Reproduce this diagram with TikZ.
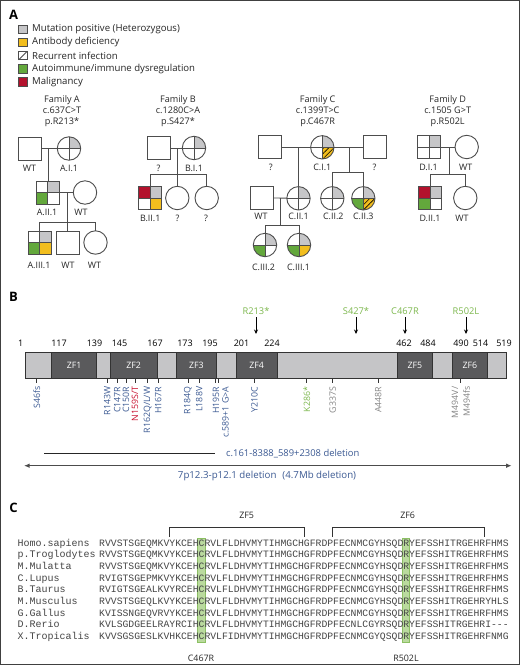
\documentclass[tikz,border=0pt]{standalone}
\usepackage{fontspec}
\setmainfont{Open Sans}
\newfontfamily\monof{Liberation Mono}
\usetikzlibrary{arrows.meta,patterns.meta,calc}
\definecolor{mutgray}{HTML}{C6C6C8}
\definecolor{accy}{HTML}{F2BE1E}
\definecolor{accg}{HTML}{63A83C}
\definecolor{accr}{HTML}{B3122D}
\definecolor{pedline}{HTML}{4D4D4D}
\definecolor{barlight}{HTML}{C5C5C7}
\definecolor{bardark}{HTML}{5A5A5C}
\definecolor{mblue}{HTML}{3C5A93}
\definecolor{mgreen}{HTML}{7DB84E}
\definecolor{mred}{HTML}{C8102E}
\definecolor{mgray}{HTML}{858585}
\definecolor{seqtext}{HTML}{454545}
\definecolor{hlfill}{HTML}{BADA9E}
\definecolor{hldraw}{HTML}{8CC063}
\begin{document}
\begin{tikzpicture}[x=1pt,y=-1pt,
  pedl/.style={draw=pedline, line width=0.9pt},
  psq/.style={rectangle, draw=pedline, line width=0.9pt, fill=white, minimum size=23pt, inner sep=0pt, outer sep=0pt},
  pci/.style={circle, draw=pedline, line width=0.9pt, fill=white, minimum size=23.4pt, inner sep=0pt, outer sep=0pt},
  plab/.style={font=\fontsize{8.9}{10}\selectfont, text=black!85, inner sep=0pt},
  ftitle/.style={font=\fontsize{9.1}{11}\selectfont, align=center, text=black!85, inner sep=0pt},
  qw/.style={fill=white}, qg/.style={fill=mutgray}, qy/.style={fill=accy},
  qgr/.style={fill=accg}, qr/.style={fill=accr},
  qyh/.style={fill=accy, postaction={pattern={Lines[angle=45,distance=3.6pt,line width=0.6pt]}, pattern color=black}},
  quads/.style n args={4}{path picture={
    \fill[#1] (path picture bounding box.center) rectangle (path picture bounding box.north west);
    \fill[#2] (path picture bounding box.center) rectangle (path picture bounding box.north east);
    \fill[#3] (path picture bounding box.center) rectangle (path picture bounding box.south west);
    \fill[#4] (path picture bounding box.center) rectangle (path picture bounding box.south east);
    \draw[pedline, line width=0.8pt] (path picture bounding box.north) -- (path picture bounding box.south)
      (path picture bounding box.west) -- (path picture bounding box.east);}},
  panlab/.style={font=\bfseries\fontsize{13}{14}\selectfont, inner sep=0pt},
  legsq/.style={rectangle, draw=pedline, line width=0.8pt, minimum size=8.6pt, inner sep=0pt, outer sep=0pt},
  legtxt/.style={font=\fontsize{9.6}{10}\selectfont, anchor=west, inner sep=0pt, text=black!85},
  zfbox/.style={rectangle, draw=black!80, line width=0.8pt, fill=bardark, minimum height=25.5pt, inner sep=0pt, outer sep=0pt, text=white, font=\fontsize{8.8}{10}\selectfont},
  numlab/.style={font=\fontsize{9}{10}\selectfont, inner sep=0pt},
  mtop/.style={font=\fontsize{9.3}{10}\selectfont, inner sep=1pt, text=mgreen},
  marr/.style={line width=0.9pt, -{Stealth[length=4.5pt,width=4pt]}, shorten <=2pt},
  mut/.style={rotate=90, anchor=east, inner sep=0pt, font=\fontsize{8.8}{10}\selectfont},
  tick/.style={line width=0.8pt, draw=black!80},
  deltxt/.style={font=\fontsize{9.4}{11}\selectfont, text=mblue, inner sep=0pt},
  darr/.style={line width=1.1pt, draw=black!70, {Latex[length=5.5pt,width=4.5pt]}-{Latex[length=5.5pt,width=4.5pt]}},
  brk/.style={line width=0.9pt, draw=black!80},
  clab/.style={font=\fontsize{8.9}{10}\selectfont, inner sep=0pt, text=black!85},
  nm/.style={font=\monof\fontsize{10}{12}\selectfont, text=seqtext, inner sep=0pt, anchor=base west},
  sq/.style={font=\monof\fontsize{9.75}{12}\selectfont, text=seqtext, inner sep=0pt, anchor=base west}
]
\useasboundingbox (0,0) rectangle (520,665);
\fill[white] (0,0) rectangle (520,665);
\draw[line width=0.8pt, draw=black!75] (0.5,0.5) rectangle (519.5,664.5);

% ---------------- Panel A ----------------
\node[panlab] (pA) at (13.5,15) {A};
\node[legsq, fill=mutgray] (l1) at (23,29.2) {};
\node[legtxt] (l1t) at (32,29.2) {Mutation positive (Heterozygous)};
\node[legsq, fill=accy] (l2) at (23,42.3) {};
\node[legtxt] (l2t) at (32,42.3) {Antibody deficiency};
\node[legsq, fill=white] (l3) at (23,55.5) {};
\draw[pedline, line width=0.8pt] (l3.south west) -- (l3.north east);
\node[legtxt] (l3t) at (32,55.5) {Recurrent infection};
\node[legsq, fill=accg] (l4) at (23,68.8) {};
\node[legtxt] (l4t) at (32,68.8) {Autoimmune/immune dysregulation};
\node[legsq, fill=accr] (l5) at (23,82) {};
\node[legtxt] (l5t) at (32,82) {Malignancy};

% Family A
\node[ftitle] (tA) at (62,111) {Family A\\c.637C>T\\p.R213*};
\node[psq] (aI1f) at (30,148.5) {};
\node[pci, quads={qw}{qg}{qw}{qw}] (aI1) at (69,148.5) {};
\node[psq, quads={qw}{qg}{qgr}{qw}] (aII1) at (47.5,192.5) {};
\node[pci] (aII1s) at (85,192.5) {};
\node[psq, quads={qw}{qg}{qgr}{qy}] (aIII1) at (39.5,242.5) {};
\node[psq] (aIII2) at (67.5,242.5) {};
\node[pci] (aIII3) at (95.5,242.5) {};
\coordinate (aM1) at (48,148.5);
\coordinate (aM2) at (67.5,192.5);
\coordinate (aS2) at (67.5,222);
\draw[pedl] (aI1f) -- (aI1);
\draw[pedl] (aM1) -- (aM1 |- aII1.north);
\draw[pedl] (aII1) -- (aII1s);
\draw[pedl] (aM2) -- (aS2);
\draw[pedl] (aIII1.north |- aS2) -- (aIII3.north |- aS2);
\draw[pedl] (aIII1.north |- aS2) -- (aIII1.north);
\draw[pedl] (aIII3.north |- aS2) -- (aIII3.north);
\draw[pedl] (aS2) -- (aIII2.north);
\node[plab] at (29.5,168.5) {WT};
\node[plab] at (69,168.5) {A.I.1};
\node[plab] at (47,212.5) {A.II.1};
\node[plab] at (81,212.5) {WT};
\node[plab] at (39,265) {A.III.1};
\node[plab] at (68,265) {WT};
\node[plab] at (94.5,265) {WT};

% Family B
\node[ftitle] (tB) at (178,111) {Family B\\c.1280C>A\\p.S427*};
\node[psq] (bI1f) at (158.5,148) {};
\node[pci, quads={qw}{qg}{qw}{qw}] (bI1) at (194,148) {};
\node[psq, quads={qr}{qg}{qw}{qy}] (bII1) at (150.3,198) {};
\node[pci] (bII2) at (177.3,198) {};
\node[pci] (bII3) at (206.7,198) {};
\coordinate (bM1) at (177.3,148);
\coordinate (bS1) at (177.3,174.3);
\draw[pedl] (bI1f) -- (bI1);
\draw[pedl] (bM1) -- (bS1);
\draw[pedl] (bII1.north |- bS1) -- (bII3.north |- bS1);
\draw[pedl] (bII1.north |- bS1) -- (bII1.north);
\draw[pedl] (bS1) -- (bII2.north);
\draw[pedl] (bII3.north |- bS1) -- (bII3.north);
\node[plab] at (158.5,168.5) {?};
\node[plab] at (194,168.5) {B.I.1};
\node[plab] at (150.3,218.5) {B.II.1};
\node[plab] at (177.5,218.5) {?};
\node[plab] at (206,218.5) {?};

% Family C
\node[ftitle] (tC) at (317.7,111) {Family C\\c.1399T>C\\p.C467R};
\node[psq] (cI1a) at (270.3,147.3) {};
\node[pci, quads={qw}{qg}{qw}{qyh}] (cI1) at (322.3,147.3) {};
\node[psq] (cI1b) at (375,147.3) {};
\node[psq] (cII1s) at (261.7,197.8) {};
\node[pci, quads={qw}{qg}{qw}{qw}] (cII1) at (298.5,198.3) {};
\node[pci, quads={qw}{qg}{qw}{qw}] (cII2) at (332.3,198.3) {};
\node[pci, quads={qw}{qg}{qgr}{qyh}] (cII3) at (363.3,198.3) {};
\node[pci, quads={qw}{qg}{qgr}{qw}] (cIII2) at (265,245) {};
\node[pci, quads={qw}{qg}{qgr}{qy}] (cIII1) at (299,245) {};
\coordinate (cM1) at (298.5,147.3);
\coordinate (cM2) at (349,147.3);
\coordinate (cS2) at (349,172.3);
\coordinate (cM3) at (280,198.3);
\coordinate (cS3) at (280,225);
\draw[pedl] (cI1a) -- (cI1);
\draw[pedl] (cI1) -- (cI1b);
\draw[pedl] (cM1) -- (cII1.north);
\draw[pedl] (cM2) -- (cS2);
\draw[pedl] (cII2.north |- cS2) -- (cII3.north |- cS2);
\draw[pedl] (cII2.north |- cS2) -- (cII2.north);
\draw[pedl] (cII3.north |- cS2) -- (cII3.north);
\draw[pedl] (cII1s) -- (cII1);
\draw[pedl] (cM3) -- (cS3);
\draw[pedl] (cIII2.north |- cS3) -- (cIII1.north |- cS3);
\draw[pedl] (cIII2.north |- cS3) -- (cIII2.north);
\draw[pedl] (cIII1.north |- cS3) -- (cIII1.north);
\node[plab] at (270.7,167.7) {?};
\node[plab] at (322.3,167.7) {C.I.1};
\node[plab] at (374.5,167.7) {?};
\node[plab] at (261,216.3) {WT};
\node[plab] at (298.5,216.3) {C.II.1};
\node[plab] at (333.3,216.3) {C.II.2};
\node[plab] at (363.3,216.3) {C.II.3};
\node[plab] at (263.5,267) {C.III.2};
\node[plab] at (298.5,267) {C.III.1};

% Family D
\node[ftitle] (tD) at (447.7,111) {Family D\\c.1505 G>T\\p.R502L};
\node[psq, quads={qw}{qg}{qw}{qw}] (dI1) at (429,147) {};
\node[pci] (dI1s) at (466.7,147) {};
\node[psq, quads={qr}{qg}{qgr}{qw}] (dII1) at (430.3,198) {};
\node[pci] (dII2) at (465.3,198) {};
\coordinate (dM1) at (449.3,147);
\coordinate (dS1) at (449.3,174.3);
\draw[pedl] (dI1) -- (dI1s);
\draw[pedl] (dM1) -- (dS1);
\draw[pedl] (dII1.north |- dS1) -- (dII2.north |- dS1);
\draw[pedl] (dII1.north |- dS1) -- (dII1.north);
\draw[pedl] (dII2.north |- dS1) -- (dII2.north);
\node[plab] at (428.5,167.7) {D.I.1};
\node[plab] at (465.7,167.7) {WT};
\node[plab] at (430,218.3) {D.II.1};
\node[plab] at (462,218.3) {WT};

% ---------------- Panel B ----------------
\node[panlab] (pB) at (13.5,297) {B};
\node[rectangle, draw=black!80, line width=0.8pt, fill=barlight, minimum width=481pt, minimum height=25.5pt, inner sep=0pt, outer sep=0pt] (bar) at (265.5,365.25) {};
\node[zfbox, minimum width=45pt] (zf1) at (74.2,365.25) {ZF1};
\node[zfbox, minimum width=47.3pt] (zf2) at (133.65,365.25) {ZF2};
\node[zfbox, minimum width=40.7pt] (zf3) at (196.35,365.25) {ZF3};
\node[zfbox, minimum width=41.3pt] (zf4) at (256.65,365.25) {ZF4};
\node[zfbox, minimum width=35pt] (zf5) at (414.8,365.25) {ZF5};
\node[zfbox, minimum width=35pt] (zf6) at (469.8,365.25) {ZF6};
\foreach \x/\t in {20.7/1, 59/117, 94.5/139, 119.5/145, 155/167, 185/173, 210/195, 241.5/201, 272/224, 404/462, 428/484, 461/490, 480.5/514, 504/519}
  \node[numlab] at (\x,343.3) {\t};
\foreach \x/\t/\n in {256/R213*/a, 356/S427*/b, 405/C467R/c, 466/R502L/d} {
  \node[mtop] (top\n) at (\x,310.7) {\t};
  \coordinate (tip\n) at (\x,334);
  \draw[marr] (top\n) -- (tip\n);
}
\foreach \x in {36.7,107.3,117.3,126,135,147.7,158.3,188,199.3,215.7,218.3,254,306.7,332.7,378.3,460.7}
  \draw[tick] (\x,378) -- (\x,383);
\node[mut, text=mblue] at (36.7,386.5) {S46fs};
\node[mut, text=mblue] at (107.3,386.5) {R143W};
\node[mut, text=mblue] at (117.3,386.5) {C147R};
\node[mut, text=mblue] at (126,386.5) {C150R};
\node[mut, text=mred] at (135,386.5) {N159S/T};
\node[mut, text=mblue] at (147.7,386.5) {R162Q/L/W};
\node[mut, text=mblue] at (158.3,386.5) {H167R};
\node[mut, text=mblue] at (188,386.5) {R184Q};
\node[mut, text=mblue] at (199.3,386.5) {L188V};
\node[mut, text=mblue] at (216,386.5) {H195R};
\node[mut, text=mblue] at (225.5,386.5) {c.589+1 G>A};
\node[mut, text=mblue] at (254.5,386.5) {Y210C};
\node[mut, text=mgreen] at (306.7,386.5) {K286*};
\node[mut, text=mgray] at (332.7,386.5) {G337S};
\node[mut, text=mgray] at (378.3,386.5) {A448R};
\node[mut, text=mgray] at (455,386.5) {M494V/};
\node[mut, text=mgray] at (466.5,386.5) {M494fs};
\coordinate (del1a) at (44.3,453.3);
\coordinate (del1b) at (215,453.3);
\draw[line width=0.8pt, draw=black!85] (del1a) -- (del1b);
\node[deltxt, anchor=west] (del1t) at (226,453.3) {c.161-8388\_589+2308 deletion};
\coordinate (del2a) at (24,465.7);
\coordinate (del2b) at (511.7,465.7);
\draw[darr] (del2a) -- (del2b);
\node[deltxt, font=\fontsize{9.7}{11}\selectfont] (del2t) at (267,475.5) {7p12.3-p12.1 deletion\hspace{6pt}(4.7Mb deletion)};

% ---------------- Panel C ----------------
\node[panlab] (pC) at (13.5,508) {C};
\node[clab] (cz5) at (246.7,515) {ZF5};
\draw[brk] (169,536.7) -- (169,527.7) -- (304,527.7) -- (304,536.7);
\node[clab] (cz6) at (407.7,515) {ZF6};
\draw[brk] (332.3,536.7) -- (332.3,527.7) -- (484,527.7) -- (484,536.7);
\fill[hlfill, draw=hldraw, line width=0.7pt] (197.8,538.3) rectangle (204.9,642.3);
\fill[hlfill, draw=hldraw, line width=0.7pt] (402.6,538.3) rectangle (409.6,642.3);
\foreach \i/\nmt/\sqt in {
 0/Homo.sapiens/RVVSTSGEQMKVYKCEHCRVLFLDHVMYTIHMGCHGFRDPFECNMCGYHSQDRYEFSSHITRGEHRFHMS,
 1/p.Troglodytes/RVVSTSGEQMKVYKCEHCRVLFLDHVMYTIHMGCHGFRDPFECNMCGYHSQDRYEFSSHITRGEHRFHMS,
 2/M.Mulatta/RVVSTSGEQMKVYKCEHCRVLFLDHVMYTIHMGCHGFRDPFECNMCGYHSQDRYEFSSHITRGEHRFHMS,
 3/C.Lupus/RVIGTSGEPMKVYKCEHCRVLFLDHVMYTIHMGCHGFRDPFECNMCGYHSQDRYEFSSHITRGEHRFHMS,
 4/B.Taurus/RVIGTSGEALKVYRCEHCRVLFLDHVMYTIHMGCHGFRDPFECNMCGYHSQDRYEFSSHITRGEHRFHMS,
 5/M.Musculus/RVVSTSGEQLKVYKCEHCRVLFLDHVMYTIHMGCHGFRDPFECNMCGYHSQDRYEFSSHITRGEHRYHLS,
 6/G.Gallus/KVISSNGEQVRVYKCEHCRVLFLDHVMYTIHMGCHGFRDPFECNMCGYHSQDRYEFSSHITRGEHRFHMS,
 7/D.Rerio/KVLSGDGEELRAYRCIHCRVLFLDHVMYTIHMGCHGFRDPFECNLCGYRSQDRYEFSSHITRGEHRI-\kern0pt-\kern0pt-,
 8/X.Tropicalis/KVVSGSGESLKVHKCEHCRVLFIDHVMYTIHMGCHGFRDPFECNMCGYQSQDRYEFSSHITRGEHRFNMG} {
  \pgfmathsetmacro\yy{542.7+11.67*\i+3.4}
  \node[nm] (name\i) at (17.5,\yy) {\nmt};
  \node[sq] (seq\i) at (99,\yy) {\sqt};
}
\node[clab] (lc467) at (201,658.3) {C467R};
\node[clab] (lr502) at (406,658.3) {R502L};
\end{tikzpicture}
\end{document}
